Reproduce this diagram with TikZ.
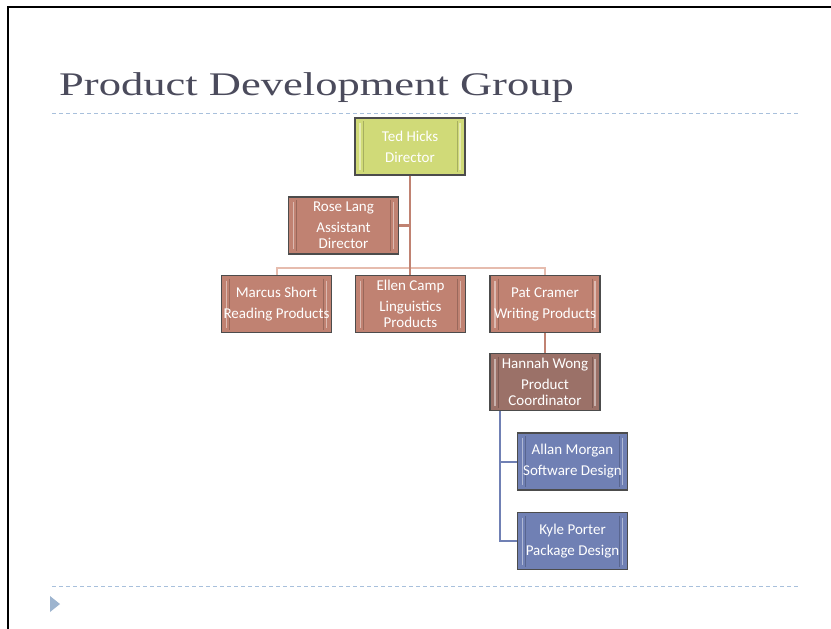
\documentclass[tikz,border=0pt]{standalone}
\usepackage{fontspec}
\setmainfont{Liberation Serif}
\newfontfamily\titlefont[FakeStretch=1.35]{Liberation Serif}
\newfontfamily\boxfont{Carlito}
\definecolor{titlegray}{HTML}{4B4B5C}
\definecolor{dashblue}{HTML}{A8C0DC}
\definecolor{tedgreen}{HTML}{D0DA78}
\definecolor{rosebrown}{HTML}{C08272}
\definecolor{hanbrown}{HTML}{9B7168}
\definecolor{orgblue}{HTML}{7080B4}
\definecolor{barpink}{HTML}{E6BCAE}
\definecolor{triblue}{HTML}{9DB4CF}
\tikzset{
  orgbox/.style={draw=black!70, line width=1.3pt, fill=#1, minimum width=110pt,
    minimum height=57pt, inner sep=0pt, align=center, text=white,
    font=\boxfont\fontsize{15}{16}\selectfont,
    path picture={
      \draw[white, opacity=0.45, line width=1.4pt]
        ([xshift=5pt,yshift=-5pt]path picture bounding box.north west) --
        ([xshift=5pt,yshift=5pt]path picture bounding box.south west);
      \draw[white, opacity=0.45, line width=1.4pt]
        ([xshift=-5pt,yshift=-5pt]path picture bounding box.north east) --
        ([xshift=-5pt,yshift=5pt]path picture bounding box.south east);
      \draw[black, opacity=0.2, line width=1pt]
        ([xshift=8pt,yshift=-3pt]path picture bounding box.north west) --
        ([xshift=8pt,yshift=3pt]path picture bounding box.south west);
      \draw[black, opacity=0.2, line width=1pt]
        ([xshift=-8pt,yshift=-3pt]path picture bounding box.north east) --
        ([xshift=-8pt,yshift=3pt]path picture bounding box.south east);
    }},
  brownline/.style={draw=rosebrown, line width=2.6pt},
  barline/.style={draw=barpink, line width=2pt},
  blueline/.style={draw=orgblue, line width=2pt},
  dashrule/.style={draw=dashblue, line width=1pt, dash pattern=on 4pt off 3pt}
}
\begin{document}
\begin{tikzpicture}[x=1pt,y=-1pt]
\useasboundingbox (0,0) rectangle (831,629);
\fill[white] (0,0) rectangle (831,629);
\draw[line width=2pt, black] (8,629) -- (8,7) -- (831,7);
\node[anchor=base west, inner sep=0pt, text=titlegray,
  font=\titlefont\fontsize{33}{38}\selectfont] (title) at (59,95) {Product Development Group};
\draw[dashrule] (52,113) -- (800,113);
\draw[dashrule] (52,586) -- (800,586);
\fill[triblue] (50,596) -- (60,604) -- (50,612) -- cycle;

\node[orgbox=tedgreen] (ted) at (410,146.5) {Ted Hicks\\[5pt]Director};
\node[orgbox=rosebrown] (rose) at (343.5,225.5) {Rose Lang\\[5pt]Assistant\\Director};
\node[orgbox=rosebrown] (marcus) at (276.5,304) {Marcus Short\\[5pt]Reading Products};
\node[orgbox=rosebrown] (ellen) at (410.5,304) {Ellen Camp\\[5pt]Linguistics\\Products};
\node[orgbox=rosebrown] (pat) at (545,304) {Pat Cramer\\[5pt]Writing Products};
\node[orgbox=hanbrown] (hannah) at (545,382) {Hannah Wong\\[5pt]Product\\Coordinator};
\node[orgbox=orgblue] (allan) at (572.5,461.5) {Allan Morgan\\[5pt]Software Design};
\node[orgbox=orgblue] (kyle) at (572.5,541) {Kyle Porter\\[5pt]Package Design};

\coordinate (hb) at (500,411);
\draw[barline] (marcus.north) -- ++(0,-7) -| (pat.north);
\draw[brownline] (ted.south) -- (ted.south |- ellen.north);
\draw[brownline] (rose.east) -- (rose.east -| ted.south);
\draw[brownline] (pat.south) -- (hannah.north);
\draw[blueline] (hb) |- (allan.west);
\draw[blueline] (hb) |- (kyle.west);
\end{tikzpicture}
\end{document}
